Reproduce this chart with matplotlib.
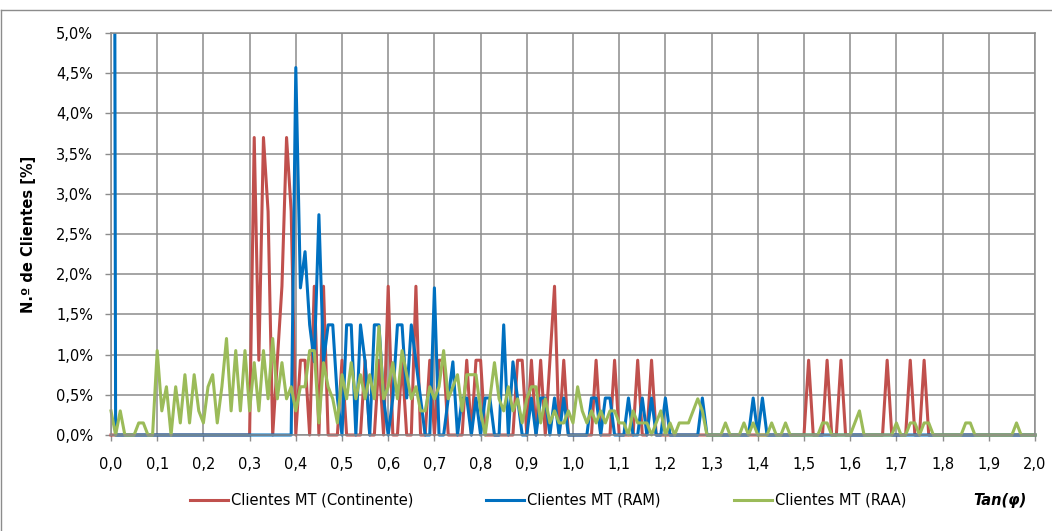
import numpy as np
import matplotlib
matplotlib.use("Agg")
import matplotlib.pyplot as plt
from matplotlib.lines import Line2D
from matplotlib.transforms import Bbox, TransformedBbox

FS = 10.5

plt.rcParams['font.family'] = ['DejaVu Sans']
plt.rcParams['xtick.direction'] = 'out'
plt.rcParams['ytick.direction'] = 'out'
plt.rcParams['xtick.major.size'] = 4.5
plt.rcParams['ytick.major.size'] = 4.5
plt.rcParams['xtick.major.pad'] = 11.5
plt.rcParams['ytick.major.pad'] = 8.5
plt.rcParams['xtick.labelsize'] = FS
plt.rcParams['ytick.labelsize'] = FS

# ==========================
# Data (% de clientes por Tan(phi), passo 0,01)
# ==========================

tan_phi = np.round(np.arange(0, 2.001, 0.01), 2)

continente = [
    0, 0, 0, 0, 0, 0, 0, 0, 0, 0,
    0, 0, 0, 0, 0, 0, 0, 0, 0, 0,
    0, 0, 0, 0, 0, 0, 0, 0, 0, 0,
    0, 3.70, 0.93, 3.70, 2.78, 0, 0.93, 1.85, 3.70, 2.78,
    0, 0.93, 0.93, 0, 1.85, 0, 1.85, 0, 0, 0,
    0.93, 0, 0, 0, 0, 0.93, 0, 0, 0.93, 0,
    1.85, 0, 0, 0.93, 0, 0, 1.85, 0, 0, 0.93,
    0, 0.93, 0.93, 0, 0, 0, 0, 0.93, 0, 0.93,
    0.93, 0, 0, 0, 0, 0, 0, 0, 0.93, 0.93,
    0, 0.93, 0, 0.93, 0, 0.93, 1.85, 0, 0.93, 0,
    0, 0, 0, 0, 0, 0.93, 0, 0, 0, 0.93,
    0, 0, 0, 0, 0.93, 0, 0, 0.93, 0, 0,
    0, 0, 0, 0, 0, 0, 0, 0, 0, 0,
    0, 0, 0, 0, 0, 0, 0, 0, 0, 0,
    0, 0, 0, 0, 0, 0, 0, 0, 0, 0,
    0, 0.93, 0, 0, 0, 0.93, 0, 0, 0.93, 0,
    0, 0, 0, 0, 0, 0, 0, 0, 0.93, 0,
    0, 0, 0, 0.93, 0, 0, 0.93, 0, 0, 0,
    0, 0, 0, 0, 0, 0, 0, 0, 0, 0,
    0, 0, 0, 0, 0, 0, 0, 0, 0, 0,
    0,
]

ram = [
    30.0, 0, 0, 0, 0, 0, 0, 0, 0, 0,
    0, 0, 0, 0, 0, 0, 0, 0, 0, 0,
    0, 0, 0, 0, 0, 0, 0, 0, 0, 0,
    0, 0, 0, 0, 0, 0, 0, 0, 0, 0,
    4.57, 1.83, 2.28, 1.37, 0.91, 2.74, 0.91, 1.37, 1.37, 0.46,
    0, 1.37, 1.37, 0, 1.37, 0.91, 0, 1.37, 1.37, 0.46,
    0, 0.46, 1.37, 1.37, 0.46, 1.37, 0.91, 0.46, 0, 0,
    1.83, 0, 0, 0.46, 0.91, 0, 0.46, 0.46, 0, 0.46,
    0, 0.46, 0.46, 0, 0, 1.37, 0, 0.91, 0.46, 0,
    0, 0.46, 0, 0.46, 0.46, 0, 0.46, 0, 0.46, 0,
    0, 0, 0, 0, 0.46, 0.46, 0, 0.46, 0.46, 0,
    0, 0, 0.46, 0, 0, 0.46, 0, 0.46, 0, 0,
    0.46, 0, 0, 0, 0, 0, 0, 0, 0.46, 0,
    0, 0, 0, 0, 0, 0, 0, 0, 0, 0.46,
    0, 0.46, 0, 0, 0, 0, 0, 0, 0, 0,
    0, 0, 0, 0, 0, 0, 0, 0, 0, 0,
    0, 0, 0, 0, 0, 0, 0, 0, 0, 0,
    0, 0, 0, 0, 0, 0, 0, 0, 0, 0,
    0, 0, 0, 0, 0, 0, 0, 0, 0, 0,
    0, 0, 0, 0, 0, 0, 0, 0, 0, 0,
    0,
]

raa = [
    0.3, 0, 0.3, 0, 0, 0, 0.15, 0.15, 0, 0,
    1.05, 0.3, 0.6, 0, 0.6, 0.15, 0.75, 0.15, 0.75, 0.3,
    0.15, 0.6, 0.75, 0.15, 0.6, 1.2, 0.3, 1.05, 0.3, 1.05,
    0.3, 0.9, 0.3, 1.05, 0.45, 1.2, 0.45, 0.9, 0.45, 0.6,
    0.3, 0.6, 0.6, 1.05, 1.05, 0.15, 0.9, 0.6, 0.45, 0.15,
    0.75, 0.45, 0.9, 0.45, 0.75, 0.45, 0.75, 0.45, 1.35, 0.45,
    0.6, 0.9, 0.45, 1.05, 0.75, 0.45, 0.6, 0.3, 0.3, 0.6,
    0.45, 0.6, 1.05, 0.45, 0.6, 0.75, 0.3, 0.75, 0.75, 0.75,
    0.3, 0, 0.45, 0.9, 0.45, 0.3, 0.6, 0.3, 0.45, 0.15,
    0.45, 0.6, 0.6, 0.15, 0.45, 0.15, 0.3, 0.15, 0.15, 0.3,
    0.15, 0.6, 0.3, 0.15, 0.3, 0.15, 0.3, 0.15, 0.3, 0.3,
    0.15, 0.15, 0, 0.3, 0.15, 0.15, 0.15, 0, 0.15, 0.3,
    0, 0.15, 0, 0.15, 0.15, 0.15, 0.3, 0.45, 0.3, 0,
    0, 0, 0, 0.15, 0, 0, 0, 0.15, 0, 0.15,
    0, 0, 0, 0.15, 0, 0, 0.15, 0, 0, 0,
    0, 0, 0, 0, 0.15, 0.15, 0, 0, 0, 0,
    0, 0.15, 0.3, 0, 0, 0, 0, 0, 0, 0,
    0.15, 0, 0, 0.15, 0.15, 0, 0.15, 0.15, 0, 0,
    0, 0, 0, 0, 0, 0.15, 0.15, 0, 0, 0,
    0, 0, 0, 0, 0, 0, 0.15, 0, 0, 0,
    0,
]

series_labels = ["Clientes MT (Continente)", "Clientes MT (RAM)", "Clientes MT (RAA)"]
series_colors = ["#C0504D", "#0070C0", "#9BBB59"]

x_ticks = np.round(np.arange(0, 2.001, 0.1), 1)
y_ticks = np.round(np.arange(0, 5.001, 0.5), 1)

# ==========================
# Figure
# ==========================

grid_col = "#8C8C8C"
W, H = 1052, 531
L, R, T, B = 111, 1035, 33, 435

fig = plt.figure(figsize=(W / 100, H / 100), dpi=100)
ax = fig.add_axes([L / W, 1 - B / H, (R - L) / W, (B - T) / H])

# lines may spill a few px below the 0 line (as in Excel), but stay inside the top
clip = TransformedBbox(Bbox([[L / W - 0.004, 1 - B / H - 0.008], [R / W + 0.004, 1 - T / H]]),
                       fig.transFigure)

for vals, lab, col in zip([continente, ram, raa], series_labels, series_colors):
    ln, = ax.plot(tan_phi, vals, color=col, lw=2.2, label=lab)
    ln.set_clip_box(clip)

ax.set_xlim(0, 2.0)
ax.set_ylim(0, 5.0)

ax.set_xticks(x_ticks)
ax.set_xticklabels([f"{v:.1f}".replace(".", ",") for v in x_ticks])
ax.set_yticks(y_ticks)
ax.set_yticklabels([f"{v:.1f}%".replace(".", ",") for v in y_ticks])

ax.grid(True, color=grid_col, lw=1.1)
ax.set_axisbelow(True)
for sp in ax.spines.values():
    sp.set_color(grid_col)
    sp.set_linewidth(1.1)

ax.tick_params(axis="both", color=grid_col, width=1.0, labelcolor="black")

ax.set_ylabel("N.º de Clientes [%]", fontsize=FS, fontweight="bold", labelpad=14)

fig.legend(loc="center", bbox_to_anchor=(0.521, 0.058), ncol=3, frameon=False,
           fontsize=FS, handlelength=2.6, handletextpad=0.2, columnspacing=5.0)

fig.text(0.9506, 0.058, "Tan(φ)", fontsize=FS, fontweight="bold",
         fontstyle="italic", ha="center", va="center")

# chart border
fig.add_artist(Line2D([0.001, 1.0], [1 - 10 / H, 1 - 10 / H],
                      transform=fig.transFigure, color=grid_col, lw=1.0))
fig.add_artist(Line2D([0.001, 0.001], [0.0, 1 - 10 / H],
                      transform=fig.transFigure, color=grid_col, lw=1.0))

# sanity check on x tick label placement (top of label ~457 px from top)
fig.canvas.draw()
bb = ax.get_xticklabels()[0].get_window_extent()
if not (64 < bb.y1 < 84):
    raise SystemExit(f"x tick label top at {H - bb.y1:.1f}px from top")

fig.savefig("out.png", dpi=100)
plt.close(fig)
